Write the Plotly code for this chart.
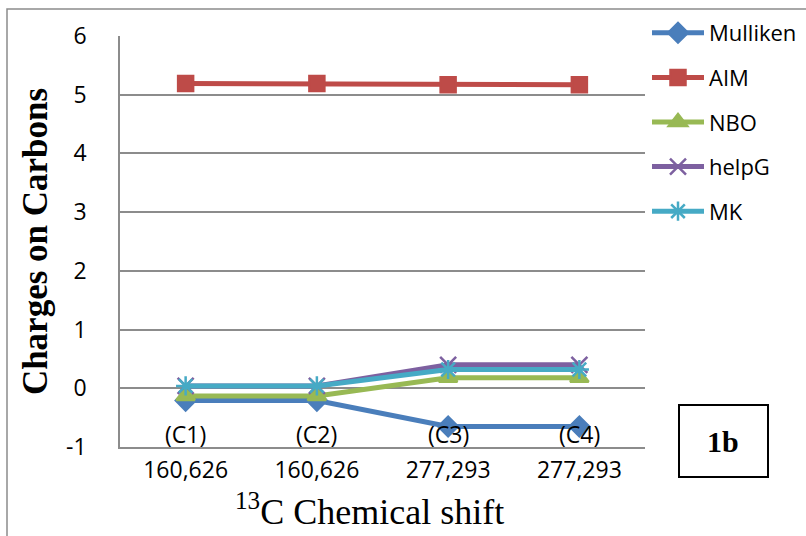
import plotly.graph_objects as go

# Chemical shift categories and carbon labels
shifts = ["160,626", "160,626", "277,293", "277,293"]
carbons = ["(C1)", "(C2)", "(C3)", "(C4)"]
yticks = [-1, 0, 1, 2, 3, 4, 5, 6]
ytext = ["-1", "0", "1", "2", "3", "4", "5", "6"]

# Atomic charges on carbons for each population scheme
mulliken = [-0.21, -0.21, -0.65, -0.65]
aim = [5.19, 5.19, 5.17, 5.17]
nbo = [-0.13, -0.13, 0.18, 0.18]
helpg = [0.04, 0.04, 0.40, 0.40]
mk = [0.04, 0.04, 0.32, 0.32]

series = [
    ("Mulliken", mulliken, "#4A7EBB", "diamond", 15),
    ("AIM", aim, "#BE4B48", "square", 15),
    ("NBO", nbo, "#98B954", "triangle-up", 16),
    ("helpG", helpg, "#7D60A0", "x-thin-open", 16),
    ("MK", mk, "#46AAC5", "asterisk-open", 16),
]

tick_font = "Open Sans, sans-serif"
serif = "Liberation Serif, Times New Roman, serif"

# pixel -> paper helpers for the plot area (x: 120..645, y: 36..447)
def px(x):
    return (x - 120) / 525

def py(y):
    return (447 - y) / 411

xs = list(range(len(shifts)))
fig = go.Figure()
for name, vals, color, sym, size in series:
    fig.add_trace(go.Scatter(
        x=xs, y=vals, name=name, legendgroup=name, mode="lines+markers",
        line=dict(color=color, width=5),
        marker=dict(symbol=sym, size=size, color=color,
                    line=dict(color=color, width=2.5)),
    ))

# carbon labels inside the plot, just above the bottom axis
for x, lab in zip(xs, carbons):
    fig.add_annotation(x=x, y=-0.77, text=lab, showarrow=False,
                       font=dict(family=tick_font, size=23, color="#000"))

# x-axis title
fig.add_annotation(xref="paper", yref="paper", x=px(369), y=py(510),
                   xanchor="center", yanchor="middle", showarrow=False,
                   text="<sup>13</sup>C Chemical shift",
                   font=dict(family=serif, size=36, color="#000"))

# "1b" panel tag
fig.add_annotation(xref="paper", yref="paper", x=px(723), y=py(441),
                   xanchor="center", yanchor="middle",
                   text="<b>1b</b>", showarrow=False,
                   font=dict(family=serif, size=30, color="#000"))
fig.add_shape(type="rect", xref="paper", yref="paper",
              x0=px(679), x1=px(768), y0=py(477), y1=py(405),
              line=dict(color="#000", width=2))

# outer chart frame
fig.add_shape(type="rect", xref="paper", yref="paper",
              x0=px(7), x1=px(812), y0=py(545), y1=py(9),
              line=dict(color="#8C8C8C", width=1.5))

fig.update_layout(
    width=806, height=536,
    margin=dict(l=120, r=161, t=36, b=89, autoexpand=False),
    paper_bgcolor="white", plot_bgcolor="white",
    showlegend=True,
    legend=dict(x=px(647), y=py(12), xanchor="left", yanchor="top",
                font=dict(family=tick_font, size=22, color="#000"),
                tracegroupgap=13, itemwidth=52, bgcolor="rgba(0,0,0,0)"),
    xaxis=dict(range=[-0.5, 3.5], tickmode="array", tickvals=xs, ticktext=shifts,
               showgrid=False, zeroline=False, showline=True,
               linecolor="#8C8C8C", linewidth=1.5, ticks="",
               ticklabelstandoff=2,
               tickfont=dict(family=tick_font, size=23, color="#000")),
    yaxis=dict(range=[-1, 6], tickmode="array", tickvals=yticks, ticktext=ytext,
               showgrid=True, gridcolor="#8C8C8C", gridwidth=1.5,
               zeroline=False, showline=True, linecolor="#8C8C8C", linewidth=1.5,
               ticks="", ticklabelstandoff=27,
               tickfont=dict(family=tick_font, size=23, color="#000"),
               title=dict(text="<b>Charges on Carbons</b>",
                          font=dict(family=serif, size=35, color="#000"), standoff=8)),
)

fig.write_html("out.html")
